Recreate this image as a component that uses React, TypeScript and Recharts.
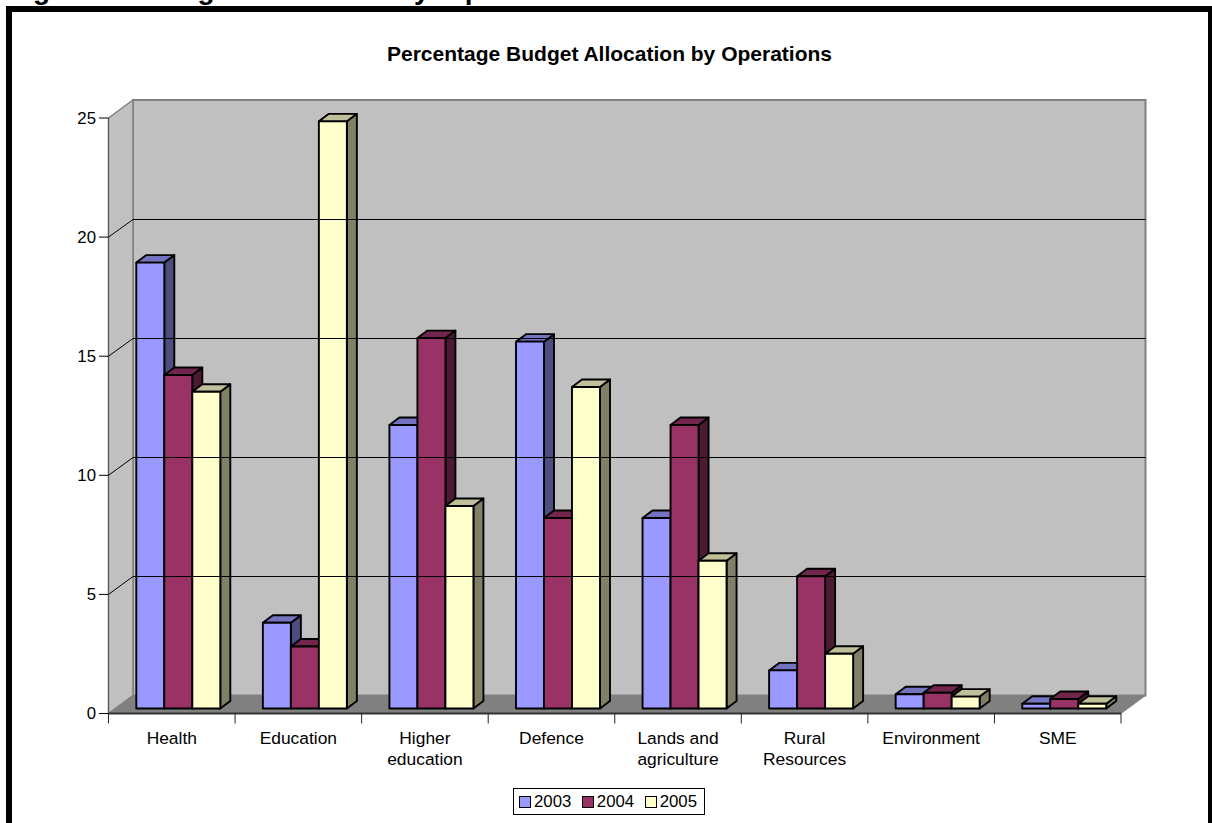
import React from "react";
import { BarChart, Bar, XAxis, YAxis, ReferenceArea, ReferenceLine, Legend, Text } from "recharts";

const categories = ["Health", "Education", "Higher education", "Defence", "Lands and agriculture", "Rural Resources", "Environment", "SME"];
const values2003 = [18.72, 3.6, 11.9, 15.4, 8.0, 1.6, 0.6, 0.2];
const values2004 = [14.0, 2.6, 15.55, 8.0, 11.9, 5.55, 0.66, 0.4];
const values2005 = [13.3, 24.65, 8.5, 13.5, 6.2, 2.3, 0.5, 0.2];
const yTicks = [0, 5, 10, 15, 20, 25];
const gridValues = [5, 10, 15, 20];

const rows = categories.map((name, i) => ({
  name,
  y2003: values2003[i],
  y2004: values2004[i],
  y2005: values2005[i],
}));

const FONT = "'Liberation Sans', Arial, sans-serif";
const W = 1212;
const H = 823;
const LEFT = 108.5;
const RIGHT = 1121;
const TOP = 118;
const BOTTOM = 713.5;
const WALL_DX = 24.5;
const WALL_DY = 18;
const BAR_DX = 7;
const BAR_DY = 5;
const BAR_DEPTH_X = 10;
const BAR_DEPTH_Y = 7.5;
const BAND = (RIGHT - LEFT) / categories.length;
const HEADING_Y = -1.5;

// Back wall, side wall and floor of the 3D plot box.
function PlotBox({ x, y, width, height }: any) {
  const l = x;
  const r = x + width;
  const t = y;
  const b = y + height;
  const dx = WALL_DX;
  const dy = WALL_DY;
  return (
    <g>
      <rect x={l + dx} y={t - dy} width={width} height={height} fill="#c0c0c0" stroke="#808080" strokeWidth={2} />
      <polygon
        points={`${l},${t} ${l + dx},${t - dy} ${l + dx},${b - dy} ${l},${b}`}
        fill="#c0c0c0"
        stroke="#808080"
        strokeWidth={1.5}
      />
      <polygon
        points={`${l},${b} ${l + dx},${b - dy} ${r + dx},${b - dy} ${r},${b}`}
        fill="#808080"
        stroke="#808080"
        strokeWidth={1}
      />
    </g>
  );
}

// Grid line that runs up the side wall and then across the back wall.
// The horizontal run is snapped to the pixel grid so it stays a crisp black hairline.
function WallGridLine({ x1, x2, y1 }: any) {
  const backY = Math.floor(y1 - WALL_DY) + 0.5;
  const points = `${x1},${y1} ${x1 + WALL_DX},${backY} ${x2 + WALL_DX},${backY}`;
  return <polyline points={points} fill="none" stroke="#000" strokeWidth={1} />;
}

function Bar3D({ x, y, width, height, fill, sideFill, topFill }: any) {
  const l = x + BAR_DX;
  const r = l + width;
  const t = y - BAR_DY;
  const b = t + height;
  const dx = BAR_DEPTH_X;
  const dy = BAR_DEPTH_Y;
  const edge = { stroke: "#000", strokeWidth: 1.9, strokeLinejoin: "round" as const };
  return (
    <g>
      <polygon points={`${r},${t} ${r + dx},${t - dy} ${r + dx},${b - dy} ${r},${b}`} fill={sideFill} {...edge} />
      <polygon points={`${l},${t} ${l + dx},${t - dy} ${r + dx},${t - dy} ${r},${t}`} fill={topFill} {...edge} />
      <rect x={l} y={t} width={width} height={height} fill={fill} {...edge} />
    </g>
  );
}

// Category label with the tick marks that sit on the band boundaries.
function CategoryTick({ x, y, payload, index }: any) {
  const half = BAND / 2;
  return (
    <g>
      <line x1={x - half} x2={x - half} y1={y - 10} y2={y} stroke="#222" strokeWidth={1} />
      {index === categories.length - 1 && (
        <line x1={x + half} x2={x + half} y1={y - 10} y2={y} stroke="#222" strokeWidth={1} />
      )}
      <Text
        x={x}
        y={y + 8}
        width={90}
        lineHeight={21}
        verticalAnchor="start"
        textAnchor="middle"
        fontFamily={FONT}
        fontSize={17.4}
        fill="#000"
      >
        {payload.value}
      </Text>
    </g>
  );
}

function LegendBox({ payload }: any) {
  return (
    <div
      style={{
        boxSizing: "border-box",
        width: 192,
        height: 27,
        border: "1px solid #000",
        background: "#fff",
        display: "flex",
        alignItems: "center",
        paddingLeft: 5,
        fontFamily: FONT,
        fontSize: 16.8,
        color: "#000",
      }}
    >
      {(payload || []).map((entry: any) => (
        <span key={entry.value} style={{ display: "flex", alignItems: "center", marginRight: 10.5 }}>
          <span
            style={{
              boxSizing: "border-box",
              width: 12,
              height: 12,
              background: entry.color,
              border: "1.5px solid #000",
              marginRight: 3,
            }}
          />
          {entry.value}
        </span>
      ))}
    </div>
  );
}

const headingStyle = { fontFamily: FONT, fontSize: 28, fontWeight: "bold" as const, fill: "#000" };

export default function App() {
  return (
    <div style={{ position: "absolute", left: 0, top: 0, width: W, height: H, background: "#fff" }}>
      <BarChart
        width={W}
        height={H}
        data={rows}
        margin={{ top: TOP, right: W - RIGHT, bottom: 0, left: 0 }}
        barGap={0}
        barCategoryGap={20.8}
      >
        <text x={8} y={HEADING_Y} {...headingStyle}>Figure 4:</text>
        <text x={143} y={HEADING_Y} {...headingStyle}>Budget</text>
        <text x={247} y={HEADING_Y} {...headingStyle}>Allocation</text>
        <text x={397} y={HEADING_Y} {...headingStyle}>by</text>
        <text x={443} y={HEADING_Y} {...headingStyle}>Operations</text>
        <rect x={9} y={9} width={1202} height={H + 20} fill="none" stroke="#000" strokeWidth={6} />
        <text x={609.5} y={61} textAnchor="middle" fontFamily={FONT} fontSize={21} fontWeight="bold" fill="#000">
          Percentage Budget Allocation by Operations
        </text>
        <ReferenceArea y1={0} y2={25} shape={<PlotBox />} ifOverflow="visible" />
        {gridValues.map((v) => (
          <ReferenceLine key={v} y={v} shape={<WallGridLine />} ifOverflow="visible" />
        ))}
        <XAxis
          dataKey="name"
          interval={0}
          height={H - BOTTOM}
          tickLine={false}
          tickSize={10}
          tickMargin={0}
          axisLine={{ stroke: "#333", strokeWidth: 2 }}
          tick={<CategoryTick />}
        />
        <YAxis
          type="number"
          domain={[0, 25]}
          ticks={yTicks}
          width={LEFT}
          tickSize={9.5}
          tickMargin={3}
          tick={{ fontFamily: FONT, fontSize: 16.8, fill: "#000" }}
          tickLine={{ stroke: "#000" }}
          axisLine={{ stroke: "#555" }}
        />
        <Legend
          layout="horizontal"
          verticalAlign="middle"
          align="center"
          wrapperStyle={{ left: 513, top: 788, width: 192, height: 27, margin: 0 }}
          content={<LegendBox />}
        />
        <Bar dataKey="y2003" name="2003" fill="#9999ff" isAnimationActive={false} shape={<Bar3D sideFill="#4d4d80" topFill="#7373bf" />} />
        <Bar dataKey="y2004" name="2004" fill="#993366" isAnimationActive={false} shape={<Bar3D sideFill="#4d1a33" topFill="#73264d" />} />
        <Bar dataKey="y2005" name="2005" fill="#ffffcc" isAnimationActive={false} shape={<Bar3D sideFill="#808066" topFill="#bfbf99" />} />
      </BarChart>
    </div>
  );
}
